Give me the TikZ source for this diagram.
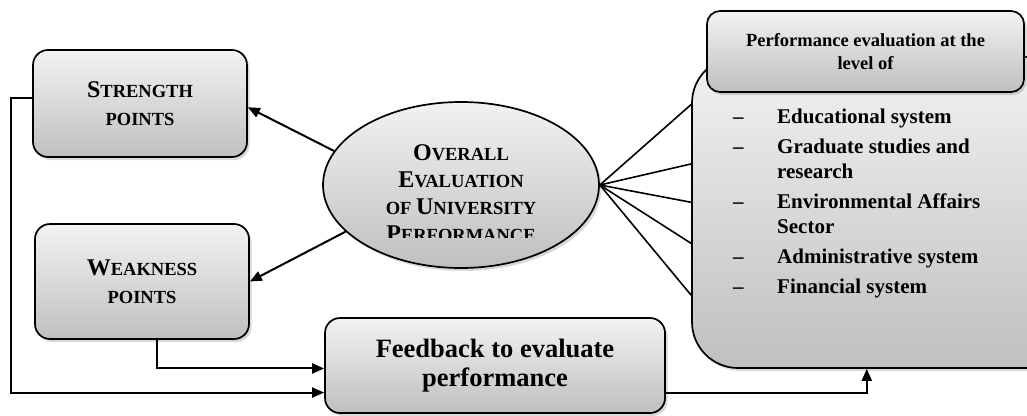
\documentclass[tikz,border=0pt]{standalone}
\usepackage{fontspec}
\setmainfont{Liberation Serif}
\usetikzlibrary{shapes.geometric,shadows,arrows.meta}
\newcommand\bigC[1]{{\fontsize{24}{27}\selectfont #1}}
\newcommand\smC[1]{{\fontsize{18.5}{27}\selectfont #1}}
\begin{document}
\begin{tikzpicture}[x=1pt,y=-1pt,
  box/.style={draw, line width=1.7pt, rounded corners=15pt, top color=gray!10, bottom color=gray!50,
    drop shadow={shadow xshift=2.5pt, shadow yshift=-3pt, opacity=0.3},
    align=center, inner sep=0pt},
  conn/.style={line width=2pt},
  arr/.style={conn, -{Triangle[length=12pt,width=10pt]}}]
\clip (0,0) rectangle (1027,415);
% big box and header
\node[box, rounded corners=46pt, minimum width=388pt, minimum height=311pt] (big) at (886,212.5) {};
\node[box, rounded corners=13pt, minimum width=317pt, minimum height=81pt,
  font=\fontsize{18.5}{23}\selectfont\bfseries] (head) at (865.5,51.5) {Performance evaluation at the\\level of};
\node[anchor=base west, inner sep=0pt, font=\fontsize{21}{25}\selectfont\bfseries] (list) at (733,123)
 {\begin{tabular}[t]{@{}p{44pt}@{}p{230pt}@{}}
  – & Educational system\\[5pt]
  – & Graduate studies and\newline research\\[5pt]
  – & Environmental Affairs\newline Sector\\[5pt]
  – & Administrative system\\[5pt]
  – & Financial system
  \end{tabular}};
% left boxes
\node[box, minimum width=214pt, minimum height=107pt, font=\fontsize{18.5}{28}\selectfont\bfseries]
  (str) at (140,103.5) {\bigC{S}\smC{TRENGTH}\\\smC{POINTS}};
\node[box, minimum width=214pt, minimum height=115pt, font=\fontsize{18.5}{28}\selectfont\bfseries]
  (wk) at (142,281.5) {\bigC{W}\smC{EAKNESS}\\\smC{POINTS}};
\node[box, minimum width=340pt, minimum height=95pt, font=\fontsize{26.5}{29}\selectfont\bfseries]
  (fb) at (495,365.5) {Feedback to evaluate\\performance};
% ellipse
\node[ellipse, draw, line width=1.7pt, top color=gray!10, bottom color=gray!50,
  drop shadow={shadow xshift=2.5pt, shadow yshift=-3pt, opacity=0.3},
  minimum width=276pt, minimum height=166pt, inner sep=0pt] (ell) at (461,185) {};
\begin{scope}
\clip (320,100) rectangle (600,237);
\node[align=center, inner sep=0pt, font=\fontsize{18.5}{27}\selectfont\bfseries] (elltext) at (461,193)
  {\bigC{O}\smC{VERALL}\\\bigC{E}\smC{VALUATION}\\\smC{OF }\bigC{U}\smC{NIVERSITY}\\\bigC{P}\smC{ERFORMANCE}};
\end{scope}
% connectors
\draw[arr] (ell.165.5) -- (str.-2);
\draw[arr] (ell.202) -- (wk.east);
\foreach \a in {151.9,166,177.2,189.2,203.8} \draw[line width=1.6pt] (ell.east) -- (big.\a);
\draw[arr] (str.177.6) -- ++(-21,0) |- (fb.189.5);
\draw[arr] (wk.-76.3) |- (fb.181.2);
\draw[arr] (fb.-9.8) -| (big.-97.7);
\end{tikzpicture}
\end{document}
